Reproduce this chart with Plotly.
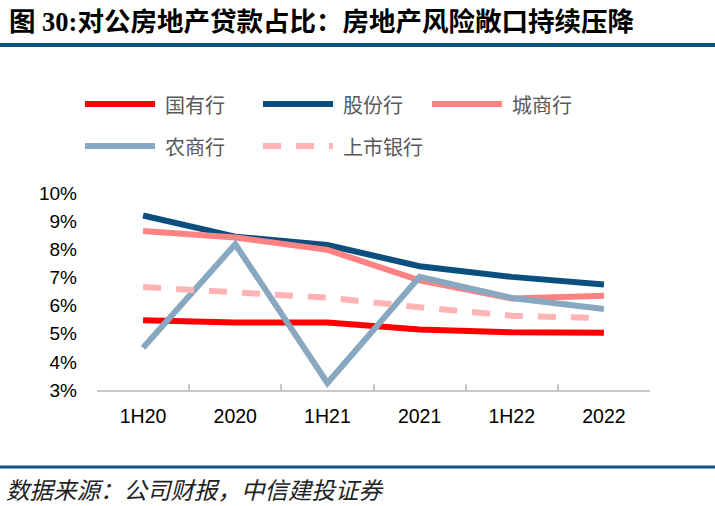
import plotly.graph_objects as go

categories = ["1H20", "2020", "1H21", "2021", "1H22", "2022"]
state_banks = [5.48, 5.40, 5.40, 5.15, 5.05, 5.03]
joint_stock = [9.20, 8.45, 8.15, 7.40, 7.02, 6.75]
city_banks = [8.65, 8.42, 7.98, 6.90, 6.25, 6.35]
rural_banks = [4.50, 8.18, 3.25, 7.02, 6.27, 5.88]
listed_banks = [6.66, 6.45, 6.28, 5.94, 5.64, 5.55]
y_ticks = [3, 4, 5, 6, 7, 8, 9, 10]
y_tick_labels = [f"{v}%" for v in y_ticks]

series = [
    ("国有行", state_banks, "#FF0000", "solid"),
    ("股份行", joint_stock, "#0B4F7E", "solid"),
    ("城商行", city_banks, "#FF8282", "solid"),
    ("农商行", rural_banks, "#87A8C0", "solid"),
    ("上市银行", listed_banks, "#FFB3B5", "18px,15px"),
]

W, H = 715, 506
L, R, T, B = 97, 65, 193, 116
PW, PH = W - L - R, H - T - B

def px(x):
    return (x - L) / PW

def py(y):
    return (H - B - y) / PH

fig = go.Figure()
for name, vals, color, dash in series:
    fig.add_trace(go.Scatter(
        x=categories, y=vals, mode="lines", name=name,
        line=dict(color=color, width=6, dash=dash),
        showlegend=False, hoverinfo="skip",
    ))

cjk = "Liberation Sans, Noto Sans CJK SC"
shapes = []
annotations = []

# title & rules
annotations.append(dict(
    text="<b>图 30:对公房地产贷款占比：房地产风险敞口持续压降</b>",
    xref="paper", yref="paper", x=px(7), y=py(22), xanchor="left", yanchor="middle",
    showarrow=False, font=dict(family="Liberation Serif, Noto Sans CJK SC", size=26.5, color="#000000"),
))
shapes.append(dict(type="line", xref="paper", yref="paper", x0=px(0), x1=px(715),
                   y0=py(45), y1=py(45), line=dict(color="#0B5283", width=4)))
shapes.append(dict(type="line", xref="paper", yref="paper", x0=px(0), x1=px(715),
                   y0=py(467), y1=py(467), line=dict(color="#0B5283", width=3)))
annotations.append(dict(
    text="<i>数据来源：公司财报，中信建投证券</i>",
    xref="paper", yref="paper", x=px(4), y=py(489), xanchor="left", yanchor="middle",
    showarrow=False, font=dict(family="Noto Sans CJK SC", size=23.5, color="#222222"),
))

# custom legend
legend_pos = [(85, 104), (263, 104), (432, 104), (85, 146), (263, 146)]
for (name, vals, color, dash), (lx, ly) in zip(series, legend_pos):
    shapes.append(dict(type="line", xref="paper", yref="paper",
                       x0=px(lx), x1=px(lx + 70), y0=py(ly), y1=py(ly),
                       line=dict(color=color, width=6, dash=dash)))
    annotations.append(dict(
        text=name, xref="paper", yref="paper", x=px(lx + 78), y=py(ly),
        xanchor="left", yanchor="middle", showarrow=False,
        font=dict(family="Noto Sans CJK SC", size=20, color="#595959"),
    ))

fig.update_layout(
    width=W, height=H,
    margin=dict(l=L, r=R, t=T, b=B, pad=0),
    paper_bgcolor="white", plot_bgcolor="white",
    shapes=shapes, annotations=annotations,
    font=dict(family=cjk, size=18, color="#000000"),
    xaxis=dict(
        type="category", range=[-0.5, 5.5], showgrid=False,
        showline=True, linecolor="#C8C8C8", linewidth=1.5,
        ticks="inside", tickson="boundaries", ticklen=6, tickcolor="#C8C8C8", tickwidth=1.5,
        ticklabelstandoff=8,
        tickfont=dict(family="Liberation Sans", size=19.5, color="#000000"),
        fixedrange=True,
    ),
    yaxis=dict(
        range=[3, 10], tickvals=y_ticks, ticktext=y_tick_labels,
        showgrid=False, zeroline=False, showline=False, ticks="", ticklabelstandoff=19,
        tickfont=dict(family="Liberation Sans", size=19, color="#000000"),
        fixedrange=True,
    ),
    showlegend=False,
)

fig.write_html("out.html", config={"displayModeBar": False},
               post_script="document.body.style.margin='0';document.body.style.overflow='hidden';")
